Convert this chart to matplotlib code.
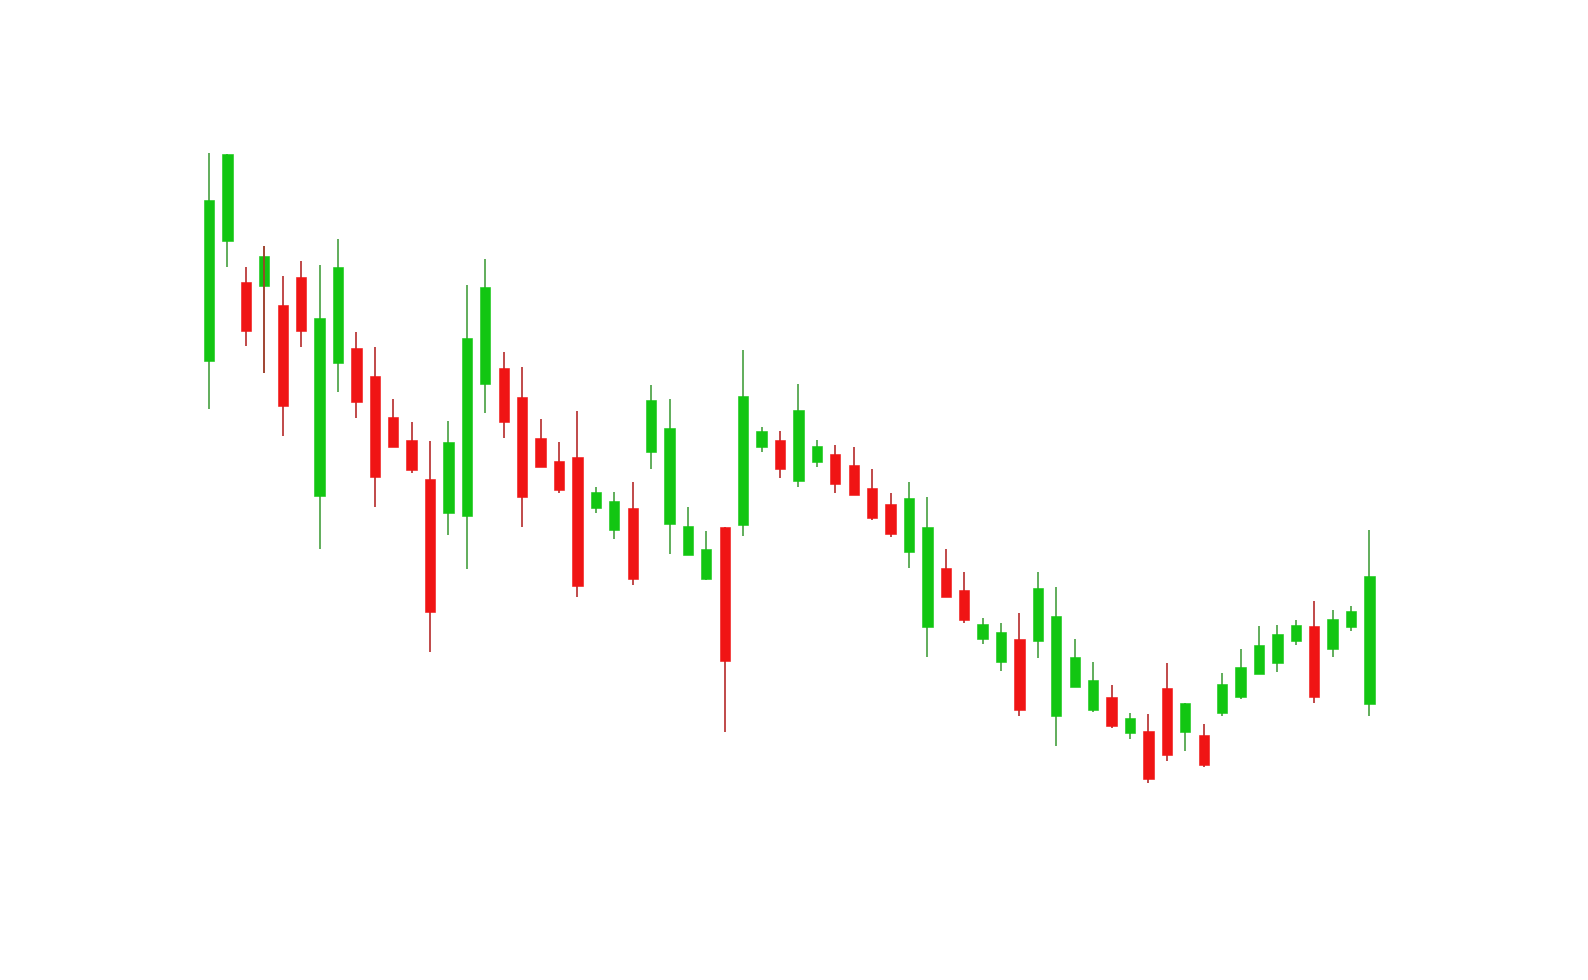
import matplotlib
matplotlib.use("Agg")
import matplotlib.pyplot as plt
import numpy as np

# OHLC values (arbitrary price units)
opens  = [63.9, 75.9, 71.8, 71.4, 69.5, 72.3, 50.4, 63.7, 65.2, 62.4, 58.3, 56.0, 52.1, 48.7, 48.4, 61.6,
          63.2, 60.3, 56.2, 53.9, 54.3, 49.2, 47.0, 49.2, 54.8, 47.6, 44.5, 42.1, 47.3, 47.5, 55.3, 56.0,
          51.9, 53.8, 54.6, 53.5, 51.2, 49.6, 44.8, 37.3, 43.2, 41.0, 36.1, 33.8, 36.1, 35.9, 28.4, 31.3,
          29.0, 30.3, 26.7, 26.9, 31.2, 26.8, 26.5, 28.7, 30.3, 32.6, 33.7, 35.9, 37.4, 35.1, 37.3, 29.6]
highs  = [84.7, 84.6, 73.3, 75.4, 72.4, 73.9, 73.5, 76.1, 66.8, 65.3, 60.1, 57.8, 55.9, 57.9, 71.5, 74.1,
          64.8, 63.3, 58.1, 55.8, 58.9, 51.3, 50.8, 51.8, 61.5, 60.1, 49.3, 46.9, 47.3, 65.0, 57.3, 56.9,
          61.6, 56.0, 55.5, 55.3, 53.1, 50.7, 51.8, 50.3, 45.1, 42.8, 38.2, 37.7, 38.7, 42.8, 41.3, 36.1,
          33.8, 31.5, 28.7, 28.6, 33.7, 29.7, 27.6, 32.7, 35.1, 37.4, 37.5, 38.0, 39.9, 39.0, 39.4, 47.0]
lows   = [59.1, 73.3, 65.4, 62.7, 56.4, 65.3, 45.1, 60.8, 58.2, 49.3, 55.3, 52.7, 34.8, 46.5, 43.1, 58.7,
          56.2, 47.3, 53.3, 50.7, 40.3, 48.7, 46.1, 41.5, 53.1, 44.6, 44.5, 42.0, 26.8, 46.4, 54.8, 52.2,
          51.3, 53.3, 50.7, 50.5, 48.0, 46.3, 43.2, 34.3, 40.3, 37.7, 35.6, 32.9, 28.4, 34.2, 25.4, 31.3,
          28.8, 27.2, 26.1, 21.7, 23.9, 24.9, 23.3, 28.4, 30.1, 32.6, 32.8, 35.5, 29.7, 34.3, 36.9, 28.4]
closes = [80.0, 84.6, 66.9, 74.4, 59.4, 66.9, 68.2, 73.3, 59.8, 52.3, 55.3, 53.0, 38.8, 55.8, 66.2, 71.3,
          57.8, 50.3, 53.3, 51.0, 41.4, 50.8, 49.9, 42.1, 60.0, 57.2, 47.4, 45.1, 33.9, 60.4, 56.9, 53.1,
          59.0, 55.4, 51.6, 50.5, 48.2, 46.6, 50.2, 47.3, 40.3, 38.0, 37.6, 36.8, 29.0, 41.2, 38.4, 34.3,
          32.0, 27.4, 28.2, 22.1, 24.5, 29.7, 23.5, 31.6, 33.3, 35.5, 36.6, 37.5, 30.3, 38.1, 38.9, 42.4]

UP = "#12c612"
DOWN = "#f01414"
UP_WICK = "#45a040"
DOWN_WICK = "#b52a2a"

fig = plt.figure(figsize=(15.88, 9.8), dpi=100)
fig.patch.set_facecolor("white")
ax = fig.add_axes([0, 0, 1, 1])
ax.set_axis_off()

o = np.array(opens); h = np.array(highs); l = np.array(lows); c = np.array(closes)
idx = np.arange(len(o))
up = c >= o
cols = [UP if u else DOWN for u in up]
wcols = [UP_WICK if u else DOWN_WICK for u in up]

ax.vlines(idx, l, h, colors=wcols, linewidth=1.2, zorder=1)
bottoms = np.minimum(o, c)
heights = np.maximum(np.abs(c - o), 0.15)
ax.bar(idx, heights, bottom=bottoms, width=0.56, color=cols, edgecolor=cols, linewidth=0.4, zorder=2)

# the fourth candle shows its (reddish) wick drawn through the body
ax.vlines(idx[3], l[3], h[3], colors=DOWN_WICK, linewidth=1.1, zorder=3)

spacing = 18.42
x0 = 209.0
ax.set_xlim(-x0 / spacing, (1588 - x0) / spacing)
ax.set_ylim((1000 - 980) / 10.0, 1000 / 10.0)

fig.savefig("out.png", dpi=100, facecolor="white")
